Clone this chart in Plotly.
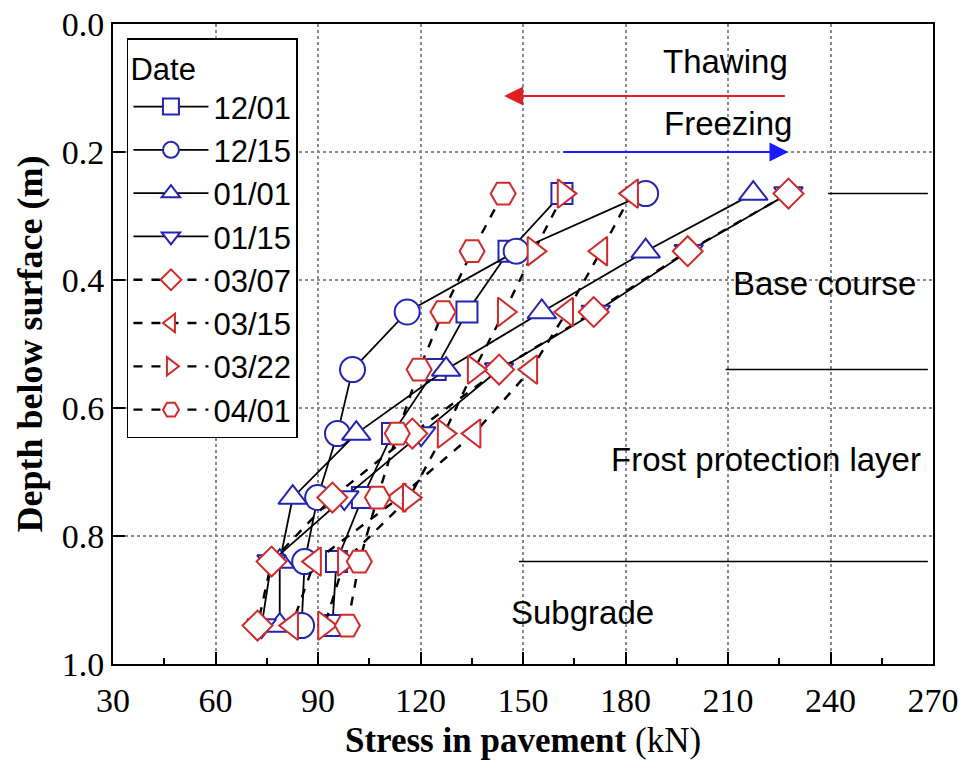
import plotly.graph_objects as go

# Measurement depths (m) shared by all survey dates
depth = [0.265, 0.355, 0.45, 0.54, 0.64, 0.74, 0.84, 0.94]

# Stress (kN) per survey date, top to bottom
s_1201 = [161.4, 145.9, 133.6, 124.3, 111.8, 103.0, 95.4, 94.2]
s_1215 = [185.9, 148.0, 116.1, 100.1, 95.7, 89.9, 86.1, 85.2]
s_0101 = [217.4, 185.9, 155.5, 127.5, 101.2, 82.6, 78.8, 78.8]
s_0115 = [227.7, 198.5, 171.3, 143.0, 120.2, 97.7, 76.4, 73.5]
s_0307 = [227.7, 198.2, 170.7, 143.0, 117.6, 94.2, 76.4, 72.3]
s_0315 = [181.8, 172.8, 162.8, 152.3, 135.7, 113.8, 89.0, 82.3]
s_0322 = [162.0, 153.2, 144.5, 135.7, 126.9, 116.7, 97.7, 91.9]
s_0401 = [144.2, 135.1, 126.6, 119.6, 113.2, 107.4, 102.1, 98.6]

dates = ["12/01", "12/15", "01/01", "01/15", "03/07", "03/15", "03/22", "04/01"]
series = [s_1201, s_1215, s_0101, s_0115, s_0307, s_0315, s_0322, s_0401]

BLUE = "#2424b4"
RED = "#d02a2a"
styles = [
    ("square", 21, BLUE, "solid"),
    ("circle", 25, BLUE, "solid"),
    ("triangle-up", 25, BLUE, "solid"),
    ("triangle-down", 25, BLUE, "solid"),
    ("diamond", 23, RED, "dash"),
    ("triangle-left", 25, RED, "dash"),
    ("triangle-right", 25, RED, "dash"),
    ("hexagon2", 25, RED, "dash"),
]

SERIF = "Liberation Serif, Times New Roman, serif"
SANS = "Liberation Sans, Arial, sans-serif"

fig = go.Figure()
for name, vals, (sym, size, col, dash) in zip(dates, series, styles):
    fig.add_trace(go.Scatter(
        x=vals, y=depth, name=name, mode="lines+markers",
        line=dict(color="black", width=1.8 if dash == "solid" else 2.4, dash=dash),
        marker=dict(symbol=sym, size=size, color="white",
                    line=dict(color=col, width=2)),
    ))

# Layer boundaries
layer_y = [0.265, 0.54, 0.84]
layer_x0 = [239.3, 209.3, 148.8]
for y0, x0 in zip(layer_y, layer_x0):
    fig.add_shape(type="line", xref="x", yref="y", x0=x0, x1=268.5, y0=y0, y1=y0,
                  line=dict(color="black", width=1.5))

labels = [
    ("Thawing", 209.3, 0.059),
    ("Freezing", 209.9, 0.156),
    ("Base course", 238.3, 0.405),
    ("Frost protection layer", 221.2, 0.68),
    ("Subgrade", 167.4, 0.919),
]
for txt, x, y in labels:
    fig.add_annotation(x=x, y=y, text=txt, showarrow=False,
                       font=dict(family=SANS, size=33, color="black"))

# Thawing / freezing arrows
fig.add_annotation(x=144.5, y=0.1125, ax=227.1, ay=0.1125, axref="x", ayref="y",
                   text="", showarrow=True, arrowhead=2, arrowsize=1.9,
                   arrowwidth=2, arrowcolor="#e02020")
fig.add_annotation(x=227.7, y=0.2, ax=161.4, ay=0.2, axref="x", ayref="y",
                   text="", showarrow=True, arrowhead=2, arrowsize=1.9,
                   arrowwidth=2, arrowcolor="#1a1aff")

axis_common = dict(
    showline=True, linecolor="black", linewidth=2, mirror=True,
    ticks="inside", tickcolor="black", tickwidth=1.5, ticklen=12,
    showgrid=True, gridcolor="#8a8a8a", griddash="dot", gridwidth=1.5,
    zeroline=False, automargin=False,
    tickfont=dict(family=SERIF, size=34, color="black"),
)

fig.update_xaxes(
    range=[30, 270], tick0=30, dtick=30, ticklabelstandoff=5,
    minor=dict(ticks="inside", ticklen=6, tick0=30, dtick=15, tickcolor="black",
               tickwidth=1.5, showgrid=False),
    title=dict(text="<b>Stress in pavement</b> (kN)",
               font=dict(family=SERIF, size=35, color="black"), standoff=10),
    **axis_common,
)
fig.update_yaxes(
    range=[1.0, 0.0], tick0=0, dtick=0.2, tickformat=".1f",
    title=dict(text="<b>Depth below surface (m)</b>",
               font=dict(family=SERIF, size=36, color="black"), standoff=8),
    **axis_common,
)

fig.update_layout(
    width=962, height=767,
    margin=dict(l=113, r=29, t=24, b=103),
    paper_bgcolor="white", plot_bgcolor="white",
    showlegend=True,
    legend=dict(
        x=0.017, y=0.978, xanchor="left", yanchor="top",
        bgcolor="white", bordercolor="black", borderwidth=1.5,
        font=dict(family=SANS, size=31, color="black"),
        title=dict(text="Date", font=dict(family=SANS, size=31, color="black")),
        itemwidth=75, entrywidth=185, tracegroupgap=0,
    ),
)

fig.write_html("out.html")
